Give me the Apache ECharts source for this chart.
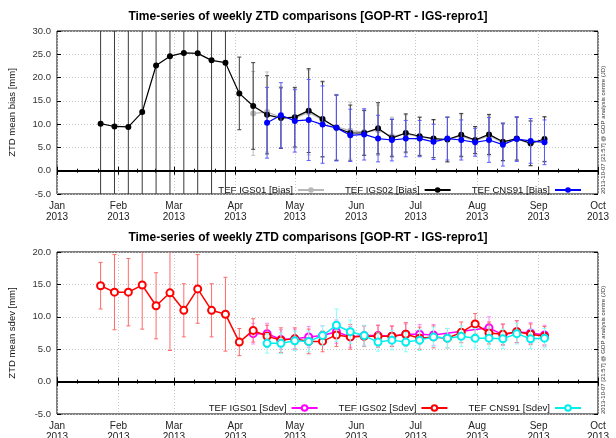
<!DOCTYPE html>
<html><head><meta charset="utf-8">
<script src="https://cdn.jsdelivr.net/npm/echarts@6/dist/echarts.min.js"></script>
<style>html,body{margin:0;padding:0;background:#fff}#c{width:616px;height:438px}</style>
</head><body><div id="c"></div>
<script>
const monthNames = ['Jan','Feb','Mar','Apr','May','Jun','Jul','Aug','Sep','Oct','Nov','Dec'];
const dates = ['2013-01-23','2013-01-30','2013-02-06','2013-02-13','2013-02-20','2013-02-27','2013-03-06','2013-03-13','2013-03-20','2013-03-27','2013-04-03','2013-04-10','2013-04-17','2013-04-24','2013-05-01','2013-05-08','2013-05-15','2013-05-22','2013-05-29','2013-06-05','2013-06-12','2013-06-19','2013-06-26','2013-07-03','2013-07-10','2013-07-17','2013-07-24','2013-07-31','2013-08-07','2013-08-14','2013-08-21','2013-08-28','2013-09-04'];

// Top: mean bias [mm]
const biasIGS01 = [null,null,null,null,null,null,null,null,null,null,null,12.3,12.6,11.5,11.3,12.5,10.9,9.4,8.6,8.3,8.7,7.4,7.9,7.3,6.8,6.7,7.4,6.4,7.5,6.0,6.8,5.8,6.6];
const errBiasIGS01 = [null,null,null,null,null,null,null,null,null,null,null,9.0,8.6,6.6,6.4,9.1,8.0,7.0,6.1,4.9,5.4,4.1,4.1,4.2,4.0,4.8,4.6,3.0,4.3,4.0,4.6,4.8,4.8];
const biasIGS02 = [10.1,9.5,9.4,12.6,22.6,24.6,25.3,25.2,23.7,23.2,16.6,13.9,12.0,11.3,11.5,12.9,11.1,9.2,8.1,8.1,9.1,7.0,8.1,7.4,6.9,6.7,7.7,6.6,7.8,6.2,6.9,5.9,6.8];
const errBiasIGS02 = [40,40,40,40,40,40,40,40,40,40,7.8,9.3,8.4,6.5,6.4,9.0,8.1,7.0,6.0,4.8,5.5,4.0,4.1,4.1,4.1,4.8,4.6,2.9,4.3,4.0,4.6,4.8,4.8];
const biasCNS91 = [null,null,null,null,null,null,null,null,null,null,null,null,10.3,11.9,10.7,10.9,9.9,9.2,7.6,7.8,6.9,6.6,6.9,6.9,6.2,6.9,6.6,6.1,6.6,5.6,6.8,6.4,6.1];
const errBiasCNS91 = [null,null,null,null,null,null,null,null,null,null,null,null,7.6,7.0,6.7,8.7,8.3,7.1,5.6,5.5,5.0,4.5,3.9,3.9,3.8,4.6,4.3,3.0,4.8,4.6,4.8,4.8,4.8];

// Bottom: mean sdev [mm]
const sdevIGS01 = [null,null,null,null,null,null,null,null,null,null,null,7.4,7.4,6.5,6.6,6.9,7.1,7.7,6.9,7.1,7.1,7.0,7.3,7.3,7.2,null,null,null,8.3,7.2,7.7,7.5,7.2];
const errSdevIGS01 = [null,null,null,null,null,null,null,null,null,null,null,1.6,1.6,1.5,1.5,1.6,1.5,1.8,1.6,1.5,1.6,1.5,1.6,1.5,1.6,null,null,null,1.7,1.6,1.7,1.6,1.5];
const sdevIGS02 = [14.8,13.8,13.8,14.9,11.7,13.7,11.0,14.3,11.0,10.4,6.1,7.9,7.0,6.4,6.6,6.2,6.2,7.2,6.9,7.0,7.0,7.0,7.3,6.7,6.9,6.7,7.6,8.9,7.5,7.3,7.7,7.3,7.0];
const errSdevIGS02 = [3.6,5.8,5.2,6.8,5.1,8.9,4.1,5.3,4.1,5.7,2.1,1.8,1.7,1.9,1.7,1.9,1.6,1.8,1.9,1.6,1.7,1.6,1.8,1.7,1.7,1.5,1.6,1.6,1.7,1.6,1.7,1.6,1.5];
const sdevCNS91 = [null,null,null,null,null,null,null,null,null,null,null,null,5.9,5.9,6.3,6.2,7.1,8.7,7.7,7.1,6.1,6.4,6.1,6.4,6.9,6.7,7.0,6.7,6.7,6.6,7.4,6.6,6.7];
const errSdevCNS91 = [null,null,null,null,null,null,null,null,null,null,null,null,1.5,1.6,1.5,1.6,1.5,2.5,1.8,1.6,1.4,1.5,1.5,1.6,1.5,1.5,1.6,1.5,1.6,1.5,1.6,1.5,1.5];

const biasNames = ['TEF IGS01 [Bias]','TEF IGS02 [Bias]','TEF CNS91 [Bias]'];
const sdevNames = ['TEF IGS01 [Sdev]','TEF IGS02 [Sdev]','TEF CNS91 [Sdev]'];
const titleText = 'Time-series of weekly ZTD comparisons [GOP-RT - IGS-repro1]';
const stampText = '2013-10-07 [21:57] @ GOP analysis centre (JD)';

const FONT = "'Liberation Sans', Arial, sans-serif";

function pairs(vals) { return dates.map((d, i) => [d, vals[i]]); }

function errSeries(name, vals, errs, color, gi, z) {
  const data = [];
  dates.forEach((d, i) => {
    if (vals[i] != null && errs[i] != null) data.push([d, vals[i] - errs[i], vals[i] + errs[i]]);
  });
  return {
    type: 'custom', name: name + ' err', xAxisIndex: gi * 2, yAxisIndex: gi * 2, z: z, silent: true,
    data: data, encode: { x: 0, y: [1, 2] },
    renderItem: function (params, api) {
      const p1 = api.coord([api.value(0), api.value(1)]);
      const p2 = api.coord([api.value(0), api.value(2)]);
      const x = p1[0], lo = p1[1], hi = p2[1];
      const cs = params.coordSys;
      const top = cs.y, bot = cs.y + cs.height;
      const st = { stroke: color, lineWidth: 1 };
      const ch = [{ type: 'line', shape: { x1: x, y1: Math.max(hi, top), x2: x, y2: Math.min(lo, bot) }, style: st }];
      if (hi >= top) ch.push({ type: 'line', shape: { x1: x - 2, y1: hi, x2: x + 2, y2: hi }, style: st });
      if (lo <= bot) ch.push({ type: 'line', shape: { x1: x - 2, y1: lo, x2: x + 2, y2: lo }, style: st });
      return { type: 'group', children: ch };
    }
  };
}

function lineSeries(name, vals, color, gi, filled, z, extra) {
  const s = {
    type: 'line', name: name, xAxisIndex: gi * 2, yAxisIndex: gi * 2, z: z,
    data: pairs(vals), connectNulls: true, animation: false,
    symbol: filled ? 'circle' : 'emptyCircle', symbolSize: filled ? 6 : 7,
    lineStyle: { color: color, width: filled ? 1.2 : 1.5 },
    itemStyle: { color: color, borderColor: color, borderWidth: filled ? 0 : 1.3 }
  };
  return Object.assign(s, extra || {});
}

const zeroLine = {
  silent: true, symbol: 'none', animation: false, label: { show: false },
  lineStyle: { color: '#000', width: 2, type: 'solid' }, data: [{ yAxis: 0 }]
};

function xAxes(gi) {
  const base = {
    type: 'time', gridIndex: gi, min: '2013-01-01', max: '2013-10-01',
    splitNumber: 9, minInterval: 28 * 86400000, maxInterval: 31 * 86400000,
    axisLine: { show: false },
    minorTick: { show: true, splitNumber: 3, length: 2, lineStyle: { color: '#000' } }
  };
  return [
    Object.assign({}, base, {
      position: 'bottom',
      axisTick: { show: true, inside: true, length: 4, lineStyle: { color: '#000' } },
      axisLabel: {
        show: true, showMinLabel: true, showMaxLabel: true, margin: 7, hideOverlap: false,
        fontSize: 10, lineHeight: 11, color: '#222', fontFamily: FONT,
        formatter: function (v) { const d = new Date(v); return monthNames[d.getMonth()] + '\n' + d.getFullYear(); }
      },
      splitLine: { show: true, lineStyle: { color: '#c8c8c8', type: [1, 2], width: 1 } }
    }),
    Object.assign({}, base, {
      position: 'top',
      axisTick: { show: true, inside: true, length: 4, lineStyle: { color: '#000' } },
      axisLabel: { show: false }, splitLine: { show: false }
    })
  ];
}

function yAxes(gi, max, name) {
  const base = { type: 'value', gridIndex: gi, min: -5, max: max, interval: 5, axisLine: { show: false } };
  return [
    Object.assign({}, base, {
      position: 'left', name: name, nameLocation: 'middle', nameGap: 40,
      nameTextStyle: { fontSize: 9.5, color: '#111', fontFamily: FONT },
      axisTick: { show: true, inside: true, length: 4, lineStyle: { color: '#000' } },
      axisLabel: { fontSize: 9.5, color: '#333', fontFamily: FONT, margin: 6, formatter: v => v.toFixed(1) },
      splitLine: { show: true, lineStyle: { color: '#c8c8c8', type: [1, 2], width: 1 } }
    }),
    Object.assign({}, base, {
      position: 'right',
      axisTick: { show: true, inside: true, length: 4, lineStyle: { color: '#000' } },
      axisLabel: { show: false }, splitLine: { show: false }
    })
  ];
}

const legendBase = {
  orient: 'horizontal', align: 'right', itemWidth: 26, itemHeight: 7, itemGap: 20, selectedMode: false,
  textStyle: { fontSize: 9.6, color: '#111', fontFamily: FONT }
};

const option = {
  backgroundColor: '#fff',
  animation: false,
  textStyle: { fontFamily: FONT },
  title: [
    { text: titleText, left: 'center', top: 6, textStyle: { fontSize: 12, fontWeight: 'bold', color: '#000', fontFamily: FONT } },
    { text: titleText, left: 'center', top: 227, textStyle: { fontSize: 12, fontWeight: 'bold', color: '#000', fontFamily: FONT } }
  ],
  grid: [
    { left: 57, right: 18, top: 31, height: 163, show: true, borderColor: '#000', borderWidth: 1, backgroundColor: 'transparent', containLabel: false, outerBoundsMode: 'none' },
    { left: 57, right: 18, top: 252, height: 162, show: true, borderColor: '#000', borderWidth: 1, backgroundColor: 'transparent', containLabel: false, outerBoundsMode: 'none' }
  ],
  xAxis: xAxes(0).concat(xAxes(1)),
  yAxis: yAxes(0, 30, 'ZTD mean bias [mm]').concat(yAxes(1, 20, 'ZTD mean sdev [mm]')),
  legend: [
    Object.assign({}, legendBase, { data: biasNames, right: 29, top: 180 }),
    Object.assign({}, legendBase, { data: sdevNames, right: 29, top: 398 })
  ],
  graphic: [
    { type: 'text', x: 603, y: 194, rotation: Math.PI / 2, style: { text: stampText, font: '6px ' + FONT, fill: '#333', textVerticalAlign: 'middle', textAlign: 'left' } },
    { type: 'text', x: 603, y: 414, rotation: Math.PI / 2, style: { text: stampText, font: '6px ' + FONT, fill: '#333', textVerticalAlign: 'middle', textAlign: 'left' } }
  ],
  series: [
    errSeries(biasNames[0], biasIGS01, errBiasIGS01, '#c0c0c0', 0, 2),
    lineSeries(biasNames[0], biasIGS01, '#b8b8b8', 0, true, 3),
    errSeries(biasNames[1], biasIGS02, errBiasIGS02, '#3a3a3a', 0, 4),
    lineSeries(biasNames[1], biasIGS02, '#000000', 0, true, 5, { markLine: zeroLine }),
    errSeries(biasNames[2], biasCNS91, errBiasCNS91, '#5a5aff', 0, 6),
    lineSeries(biasNames[2], biasCNS91, '#0000ff', 0, true, 7),

    errSeries(sdevNames[0], sdevIGS01, errSdevIGS01, '#ff88ff', 1, 2),
    lineSeries(sdevNames[0], sdevIGS01, '#ff00ff', 1, false, 3, { markLine: zeroLine }),
    errSeries(sdevNames[1], sdevIGS02, errSdevIGS02, '#ff6a6a', 1, 4),
    lineSeries(sdevNames[1], sdevIGS02, '#ff0000', 1, false, 5),
    errSeries(sdevNames[2], sdevCNS91, errSdevCNS91, '#88ffff', 1, 6),
    lineSeries(sdevNames[2], sdevCNS91, '#00eeee', 1, false, 7)
  ]
};

const chart = echarts.init(document.getElementById('c'), null, { renderer: 'canvas' });
chart.setOption(option);
</script>
</body></html>
